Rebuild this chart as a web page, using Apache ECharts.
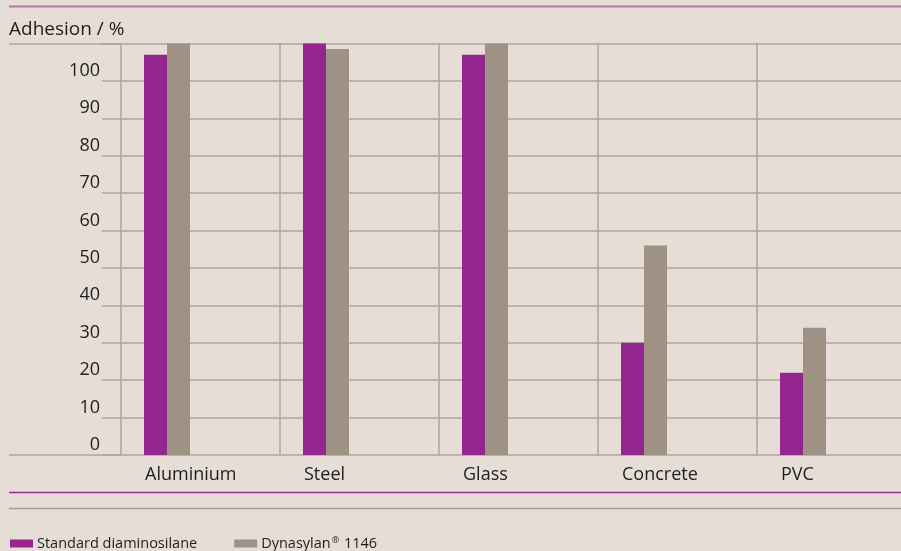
<!DOCTYPE html>
<html>
<head>
<meta charset="utf-8">
<title>Adhesion</title>
<script src="https://cdn.jsdelivr.net/npm/echarts@6/dist/echarts.min.js"></script>
<style>
    html, body { margin: 0; padding: 0; background: #e6ded6; overflow: hidden; }
    /* wider than the window on purpose: last band runs past the right edge */
    #chart { width: 916px; height: 551px; }
</style>
</head>
<body>
<div id="chart"></div>
<script>
var categories = ['Aluminium', 'Steel', 'Glass', 'Concrete', 'PVC'];
var standardVals = [107, 110, 107, 30, 22];   // Standard diaminosilane
var dynasylanVals = [110, 108.5, 110, 56, 34]; // Dynasylan 1146
var yTicks = { min: 0, max: 110, step: 10 };

var gridCol = '#b1a598';
var txtCol = '#1e1e1e';
var font = 'Open Sans';

var dom = document.getElementById('chart');
var myChart = echarts.init(dom);

//spacer series so the bar pair sits on the left side of each band
var spacer = categories.map(function () { return '-'; });

var option = {
    backgroundColor: '#e6ded6',
    animation: false,
    textStyle: { fontFamily: font, color: txtCol },
    title: {
        text: 'Adhesion / %',
        left: 9,
        top: 20,
        padding: 0,
        textStyle: { fontFamily: font, fontSize: 19, fontWeight: 'normal', color: txtCol }
    },
    legend: {
        data: ['Standard diaminosilane', 'Dynasylan® 1146'],
        left: 10,
        top: 536,
        padding: 0,
        itemWidth: 23,
        itemHeight: 8,
        itemGap: 37,
        icon: 'rect',
        formatter: function (name) {
            return name.indexOf('®') >= 0
                ? '{n|' + name.split('®')[0] + '}{sup|®}{n|' + name.split('®')[1] + '}'
                : '{n|' + name + '}';
        },
        textStyle: {
            fontFamily: font, fontSize: 14.5, color: txtCol, padding: [0, 0, 0, -1],
            rich: {
                n: { fontFamily: font, fontSize: 14.5, color: txtCol },
                sup: { fontFamily: font, fontSize: 9, color: txtCol, verticalAlign: 'top', padding: [0, 1, 6, 1] }
            }
        }
    },
    graphic: [
        { type: 'line', shape: { x1: 9, y1: 6.5, x2: 916, y2: 6.5 }, style: { stroke: '#bd6fb0', lineWidth: 2 } },
        { type: 'line', shape: { x1: 9, y1: 492.5, x2: 916, y2: 492.5 }, style: { stroke: '#9d2a97', lineWidth: 1.5 } },
        { type: 'line', shape: { x1: 9, y1: 508.5, x2: 916, y2: 508.5 }, style: { stroke: '#a89c8f', lineWidth: 1.5 } }
    ],
    grid: [
        { left: 121, top: 43.5, width: 795, height: 411.5 },
        { left: 102, top: 43.5, width: 19, height: 411.5 },
        { left: 9, top: 43.5, width: 112, height: 411.5 }
    ],
    xAxis: [
        {
            type: 'category',
            gridIndex: 0,
            data: categories,
            boundaryGap: true,
            axisLine: { show: false },
            axisTick: { show: false },
            splitLine: { show: true, interval: 0, lineStyle: { color: gridCol, width: 1.5 } },
            axisLabel: {
                interval: 0,
                margin: 11,
                fontSize: 18,
                color: txtCol,
                fontFamily: font,
                formatter: function (v) { return '{a|' + v + '}'; },
                rich: { a: { width: 111, align: 'left', fontSize: 18, fontFamily: font, color: txtCol } }
            }
        },
        { type: 'value', gridIndex: 1, show: false },
        { type: 'value', gridIndex: 2, show: false }
    ],
    yAxis: [
        {
            type: 'value',
            gridIndex: 0,
            min: yTicks.min, max: yTicks.max, interval: yTicks.step,
            axisLine: { show: false },
            axisTick: { show: false },
            axisLabel: { show: false },
            splitLine: { lineStyle: { color: gridCol, width: 1.5 } }
        },
        {
            type: 'value',
            gridIndex: 1,
            min: yTicks.min, max: yTicks.max, interval: yTicks.step,
            axisLine: { show: false },
            axisTick: { show: false },
            splitLine: { lineStyle: { color: gridCol, width: 1.5 } },
            axisLabel: {
                margin: 2,
                fontSize: 18,
                color: txtCol,
                fontFamily: font,
                verticalAlign: 'bottom',
                padding: [0, 0, 1, 0],
                formatter: function (v) { return v === yTicks.max ? '' : v; }
            }
        },
        {
            type: 'value',
            gridIndex: 2,
            min: yTicks.min, max: yTicks.max, interval: yTicks.max,
            axisLine: { show: false },
            axisTick: { show: false },
            axisLabel: { show: false },
            splitLine: { lineStyle: { color: gridCol, width: 1.5 } }
        }
    ],
    series: [
        {
            name: 'Standard diaminosilane',
            type: 'bar',
            data: standardVals,
            barWidth: 23,
            barGap: '0%',
            itemStyle: { color: '#93278f' }
        },
        {
            name: 'Dynasylan® 1146',
            type: 'bar',
            data: dynasylanVals,
            barWidth: 23,
            barGap: '0%',
            itemStyle: { color: '#9f9284' }
        },
        {
            name: 'spacer',
            type: 'bar',
            data: spacer,
            barWidth: 67,
            barGap: '0%',
            silent: true,
            itemStyle: { color: 'transparent' }
        }
    ]
};

myChart.setOption(option);
</script>
</body>
</html>
